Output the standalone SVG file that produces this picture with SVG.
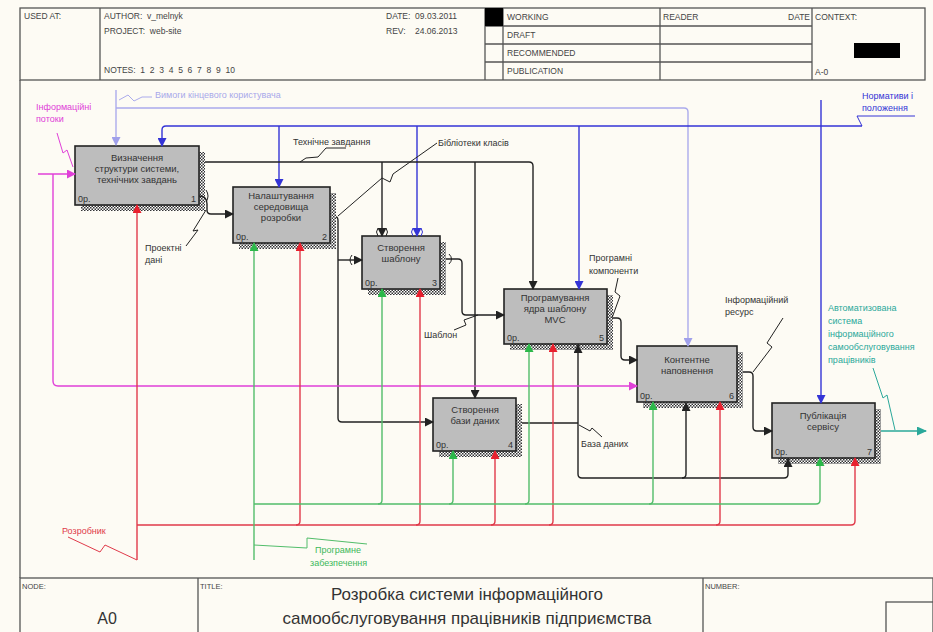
<svg xmlns="http://www.w3.org/2000/svg" width="933" height="632" viewBox="0 0 933 632">
<defs>
<style>
text{font-family:"Liberation Sans",Arial,sans-serif;}
.h{font-size:8.5px;fill:#444;white-space:pre;}
.nt{font-size:9.5px;fill:#333;text-anchor:middle;}
.nc{font-size:9px;fill:#333;}
.lb{font-size:9px;fill:#333;}
.frame{fill:none;stroke:#555;stroke-width:1.3;}
.box{fill:#bdbdbd;stroke:#222;stroke-width:1.6;}
.sh{fill:url(#hatch);}
.c{fill:none;stroke-width:1.4;stroke-linejoin:round;}
.k{stroke:#222;}
.b{stroke:#3434d6;}
.p{stroke:#ababec;}
.m{stroke:#e040d8;}
.r{stroke:#e03a4a;}
.g{stroke:#52bd6a;}
.t{stroke:#2aa89a;}
.sq{fill:none;stroke-width:1;}
</style>
<pattern id="hatch" width="3" height="3" patternUnits="userSpaceOnUse">
<rect width="3" height="3" fill="#fff"/>
<rect width="1.5" height="1.5" fill="#333"/>
<rect x="1.5" y="1.5" width="1.5" height="1.5" fill="#333"/>
</pattern>
<marker id="ak" markerWidth="9" markerHeight="9" refX="8" refY="4.5" orient="auto" markerUnits="userSpaceOnUse"><path d="M0,0 L9,4.5 L0,9 z" fill="#222"/></marker>
<marker id="ab" markerWidth="9" markerHeight="9" refX="8" refY="4.5" orient="auto" markerUnits="userSpaceOnUse"><path d="M0,0 L9,4.5 L0,9 z" fill="#3434d6"/></marker>
<marker id="ap" markerWidth="9" markerHeight="9" refX="8" refY="4.5" orient="auto" markerUnits="userSpaceOnUse"><path d="M0,0 L9,4.5 L0,9 z" fill="#a0a0ea"/></marker>
<marker id="am" markerWidth="9" markerHeight="9" refX="8" refY="4.5" orient="auto" markerUnits="userSpaceOnUse"><path d="M0,0 L9,4.5 L0,9 z" fill="#e040d8"/></marker>
<marker id="ar" markerWidth="9" markerHeight="9" refX="8" refY="4.5" orient="auto" markerUnits="userSpaceOnUse"><path d="M0,0 L9,4.5 L0,9 z" fill="#e8202e"/></marker>
<marker id="ag" markerWidth="9" markerHeight="9" refX="8" refY="4.5" orient="auto" markerUnits="userSpaceOnUse"><path d="M0,0 L9,4.5 L0,9 z" fill="#2cb84a"/></marker>
<marker id="at" markerWidth="10" markerHeight="9" refX="9" refY="4.5" orient="auto" markerUnits="userSpaceOnUse"><path d="M0,0 L10,4.5 L0,9 z" fill="#2aa89a"/></marker>
</defs>
<rect width="933" height="632" fill="#fdfbf4"/>

<g id="header">
<rect class="frame" x="20" y="8" width="905" height="72"/>
<line class="frame" x1="100" y1="8" x2="100" y2="80"/>
<line class="frame" x1="485" y1="8" x2="485" y2="80"/>
<line class="frame" x1="503" y1="8" x2="503" y2="80"/>
<line class="frame" x1="660" y1="8" x2="660" y2="80"/>
<line class="frame" x1="812" y1="8" x2="812" y2="80"/>
<line class="frame" x1="485" y1="26" x2="812" y2="26"/>
<line class="frame" x1="485" y1="44" x2="812" y2="44"/>
<line class="frame" x1="485" y1="62" x2="812" y2="62"/>
<rect x="485" y="8" width="18" height="18" fill="#000"/>
<rect x="854" y="43" width="46" height="15" fill="#000"/>
<text class="h" x="24" y="19">USED AT:</text>
<text class="h" x="104" y="19">AUTHOR:  v_melnyk</text>
<text class="h" x="104" y="34">PROJECT:  web-site</text>
<text class="h" x="104" y="73">NOTES:  1  2  3  4  5  6  7  8  9  10</text>
<text class="h" x="386" y="19">DATE:  09.03.2011</text>
<text class="h" x="386" y="34">REV:    24.06.2013</text>
<text class="h" x="507" y="20">WORKING</text>
<text class="h" x="507" y="38">DRAFT</text>
<text class="h" x="507" y="56">RECOMMENDED</text>
<text class="h" x="507" y="74">PUBLICATION</text>
<text class="h" x="663" y="20">READER</text>
<text class="h" x="788" y="20">DATE</text>
<text class="h" x="815" y="20">CONTEXT:</text>
<text class="h" x="815" y="75">A-0</text>
<line class="frame" x1="20" y1="80" x2="20" y2="578"/>
</g>

<g id="footer">
<rect class="frame" x="20" y="578" width="913" height="56"/>
<line class="frame" x1="198" y1="578" x2="198" y2="632"/>
<line class="frame" x1="703" y1="578" x2="703" y2="632"/>
<rect class="frame" x="886" y="602" width="50" height="32"/>
<text class="h" x="22" y="589" style="font-size:7.5px">NODE:</text>
<text x="107" y="624" style="font-size:16px;fill:#333;text-anchor:middle">A0</text>
<text class="h" x="200" y="589" style="font-size:7.5px">TITLE:</text>
<text x="467" y="600" style="font-size:17px;fill:#333;text-anchor:middle">Розробка системи інформаційного</text>
<text x="467" y="624" style="font-size:17px;fill:#333;text-anchor:middle">самообслуговування працівників підприємства</text>
<text class="h" x="705" y="589" style="font-size:7.5px">NUMBER:</text>
</g>

<g id="node1">
<rect class="sh" x="81" y="152" width="124" height="59"/>
<rect class="box" x="75" y="146" width="124" height="59"/>
<text class="nt" x="137" y="161">Визначення</text>
<text class="nt" x="137" y="172">структури системи,</text>
<text class="nt" x="137" y="183">технічних завдань</text>
<text class="nc" x="78" y="202">0р.</text>
<text class="nc" x="196" y="202" text-anchor="end">1</text>
</g>
<g id="node2">
<rect class="sh" x="239" y="193" width="97" height="56"/>
<rect class="box" x="233" y="187" width="97" height="56"/>
<text class="nt" x="281" y="199">Налаштування</text>
<text class="nt" x="281" y="210">середовища</text>
<text class="nt" x="281" y="221">розробки</text>
<text class="nc" x="236" y="240">0р.</text>
<text class="nc" x="327" y="240" text-anchor="end">2</text>
</g>
<g id="node3">
<rect class="sh" x="368" y="242" width="78" height="53"/>
<rect class="box" x="362" y="236" width="78" height="53"/>
<text class="nt" x="401" y="251">Створення</text>
<text class="nt" x="401" y="262">шаблону</text>
<text class="nc" x="365" y="286">0р.</text>
<text class="nc" x="437" y="286" text-anchor="end">3</text>
</g>
<g id="node4">
<rect class="sh" x="439" y="404" width="83" height="53"/>
<rect class="box" x="433" y="398" width="83" height="53"/>
<text class="nt" x="475" y="413">Створення</text>
<text class="nt" x="475" y="424">бази даних</text>
<text class="nc" x="436" y="448">0р.</text>
<text class="nc" x="513" y="448" text-anchor="end">4</text>
</g>
<g id="node5">
<rect class="sh" x="510" y="295" width="103" height="55"/>
<rect class="box" x="504" y="289" width="103" height="55"/>
<text class="nt" x="555" y="301">Програмування</text>
<text class="nt" x="555" y="312">ядра шаблону</text>
<text class="nt" x="555" y="323">MVC</text>
<text class="nc" x="507" y="341">0р.</text>
<text class="nc" x="604" y="341" text-anchor="end">5</text>
</g>
<g id="node6">
<rect class="sh" x="643" y="352" width="100" height="56"/>
<rect class="box" x="637" y="346" width="100" height="56"/>
<text class="nt" x="687" y="363">Контентне</text>
<text class="nt" x="687" y="374">наповнення</text>
<text class="nc" x="640" y="399">0р.</text>
<text class="nc" x="734" y="399" text-anchor="end">6</text>
</g>
<g id="node7">
<rect class="sh" x="778" y="409" width="103" height="55"/>
<rect class="box" x="772" y="403" width="103" height="55"/>
<text class="nt" x="823" y="419">Публікація</text>
<text class="nt" x="823" y="430">сервісу</text>
<text class="nc" x="775" y="455">0р.</text>
<text class="nc" x="872" y="455" text-anchor="end">7</text>
</g>

<g id="connectors">
<!-- pale control -->
<path class="c p" d="M116,90 V145" marker-end="url(#ap)"/>
<path class="c p" d="M116,108 H684 Q688,108 688,112 V346" marker-end="url(#ap)"/>
<path class="sq p" d="M119,100 L128,95 L134,101 L142,97 H152"/>
<!-- blue control -->
<path class="c b" d="M862,126 H166 Q162,126 162,130 V146" marker-end="url(#ab)"/>
<path class="c b" d="M279,126 V187" marker-end="url(#ab)"/>
<path class="c b" d="M417,126 V236" marker-end="url(#ab)"/>
<path class="c b" d="M579,126 V289" marker-end="url(#ab)"/>
<path class="c b" d="M821,100 V403" marker-end="url(#ab)"/>
<path class="sq b" d="M862,126 L857,116 H915"/>
<!-- black arrows -->
<path class="c k" d="M205,162 H529 Q533,162 533,166 V289" marker-end="url(#ak)"/>
<path class="c k" d="M382,162 V236" marker-end="url(#ak)"/>
<path class="c k" d="M475,162 V398" marker-end="url(#ak)"/>
<path class="c k" d="M199,196 Q207,196 207,204 V210 Q207,214 211,214 H233" marker-end="url(#ak)"/>
<path class="c k" d="M336,217 Q338,217 338,221 V418 Q338,422 342,422 H433" marker-end="url(#ak)"/>
<path class="c k" d="M338,260 H362" marker-end="url(#ak)"/>
<path class="c k" d="M446,259 H458 Q462,259 462,263 V311 Q462,315 466,315 H504" marker-end="url(#ak)"/>
<path class="c k" d="M613,318 H617 Q621,318 621,322 V356 Q621,360 625,360 H637" marker-end="url(#ak)"/>
<path class="c k" d="M522,423 H578"/>
<path class="c k" d="M578,423 V345" marker-end="url(#ak)"/>
<path class="c k" d="M578,423 V474 Q578,478 582,478 H784 Q788,478 788,474 V459" marker-end="url(#ak)"/>
<path class="c k" d="M682,478 Q686,478 686,474 V403" marker-end="url(#ak)"/>
<path class="c k" d="M743,372 H749 Q753,372 753,376 V427 Q753,431 757,431 H772" marker-end="url(#ak)"/>
<!-- tunnels -->
<path class="sq k" d="M378,228 Q375,232 378,236 M386,228 Q389,232 386,236"/>
<path class="sq b" d="M413,228 Q410,232 413,236 M421,228 Q424,232 421,236"/>
<path class="sq k" d="M352,255 Q348,260 352,265"/>
<path class="sq k" d="M449,254 Q454,259 449,264"/>
<path class="sq k" d="M206,190 Q210,196 206,202"/>
<!-- black leaders -->
<path class="sq k" d="M346,148 H326 L318,157 L306,158 L300,162"/>
<path class="sq k" d="M437,143 L393,174 L390,182 L382,178 L338,216"/>
<path class="sq k" d="M186,246 L198,230 L193,231 L206,210"/>
<path class="sq k" d="M454,330 L466,325 L464,320 L478,315"/>
<path class="sq k" d="M618,278 L615,292 L620,296 L612,318"/>
<path class="sq k" d="M579,425 L590,431 L592,428 L602,437"/>
<path class="sq k" d="M783,318 L767,343 L772,347 L753,372"/>
<!-- teal output -->
<path class="c t" d="M881,431 H926" marker-end="url(#at)"/>
<path class="sq t" d="M873,368 L883,398 L887,395 L895,430"/>
<!-- magenta input -->
<path class="c m" d="M38,174 H75" marker-end="url(#am)"/>
<path class="c m" d="M53,174 V381 Q53,386 58,386 H637" marker-end="url(#am)"/>
<path class="sq m" d="M57,133 L63,153 L67,150 L73,167"/>
<!-- red mechanism -->
<path class="c r" d="M137,560 V205" marker-end="url(#ar)"/>
<path class="c r" d="M137,525 H851 Q855,525 855,521 V458" marker-end="url(#ar)"/>
<path class="c r" d="M296,525 Q300,525 300,521 V243" marker-end="url(#ar)"/>
<path class="c r" d="M416,525 Q420,525 420,521 V289" marker-end="url(#ar)"/>
<path class="c r" d="M491,525 Q495,525 495,521 V451" marker-end="url(#ar)"/>
<path class="c r" d="M549,525 Q553,525 553,521 V344" marker-end="url(#ar)"/>
<path class="c r" d="M716,525 Q720,525 720,521 V402" marker-end="url(#ar)"/>
<path class="sq r" d="M68,537 L100,552 L105,545 L137,560"/>
<!-- green mechanism -->
<path class="c g" d="M254,560 V243" marker-end="url(#ag)"/>
<path class="c g" d="M254,504 H816 Q820,504 820,500 V458" marker-end="url(#ag)"/>
<path class="c g" d="M378,504 Q382,504 382,500 V289" marker-end="url(#ag)"/>
<path class="c g" d="M449,504 Q453,504 453,500 V451" marker-end="url(#ag)"/>
<path class="c g" d="M525,504 Q529,504 529,500 V344" marker-end="url(#ag)"/>
<path class="c g" d="M649,504 Q653,504 653,500 V402" marker-end="url(#ag)"/>
<path class="sq g" d="M254,545 L307,548 L307,538 L367,544"/>
</g>

<g id="labels">
<text class="lb" x="155" y="98" style="fill:#a8a8ea">Вимоги кінцевого користувача</text>
<text class="lb" x="862" y="99" style="fill:#3434d6">Нормативи і</text>
<text class="lb" x="862" y="111" style="fill:#3434d6">положення</text>
<text class="lb" x="36" y="110" style="fill:#e040d8">Інформаційні</text>
<text class="lb" x="36" y="122" style="fill:#e040d8">потоки</text>
<text class="lb" x="293" y="145">Технічне завдання</text>
<text class="lb" x="438" y="146">Бібліотеки класів</text>
<text class="lb" x="145" y="251">Проектні</text>
<text class="lb" x="145" y="263">дані</text>
<text class="lb" x="589" y="261">Програмні</text>
<text class="lb" x="589" y="274">компоненти</text>
<text class="lb" x="424" y="338">Шаблон</text>
<text class="lb" x="725" y="303">Інформаційний</text>
<text class="lb" x="725" y="315">ресурс</text>
<text class="lb" x="581" y="447">База даних</text>
<text class="lb" x="828" y="311" style="fill:#2aa89a">Автоматизована</text>
<text class="lb" x="828" y="324" style="fill:#2aa89a">система</text>
<text class="lb" x="828" y="337" style="fill:#2aa89a">інформаційного</text>
<text class="lb" x="828" y="350" style="fill:#2aa89a">самообслуговування</text>
<text class="lb" x="828" y="363" style="fill:#2aa89a">працівників</text>
<text class="lb" x="62" y="534" style="fill:#e03a4a">Розробник</text>
<text class="lb" x="315" y="553" style="fill:#3cb85a">Програмне</text>
<text class="lb" x="310" y="566" style="fill:#3cb85a">забезпечення</text>
</g>
</svg>
